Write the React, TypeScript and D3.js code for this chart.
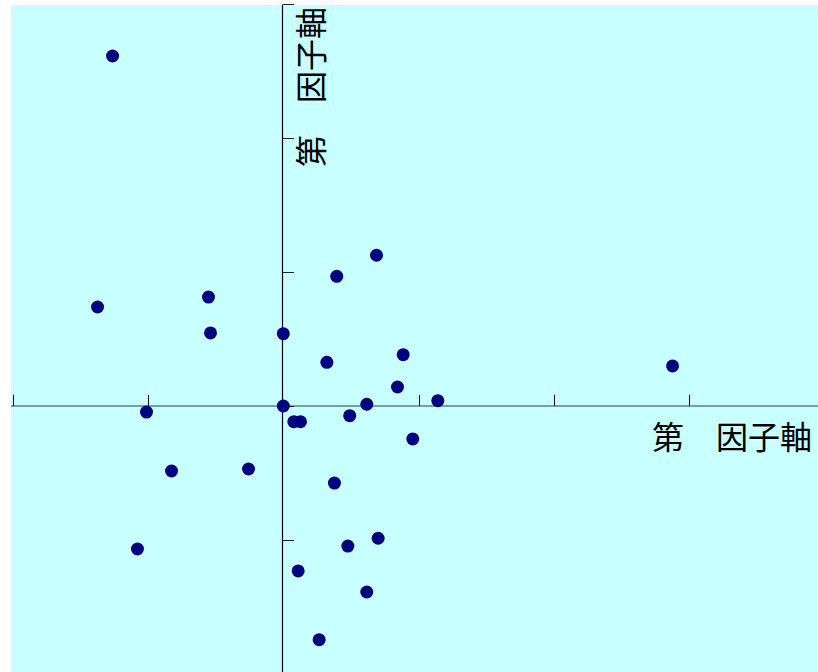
import React from "react";
import * as d3 from "d3";

const xValues = [-1.262, -1.373, -0.553, -0.538, 0.0, 0.395, 0.689, 0.322, 0.886, 0.844, 1.142, 2.877, -1.011, 0.0, 0.078, 0.127, 0.491, 0.617, 0.957, -0.826, -0.257, 0.378, -1.078, 0.477, 0.701, 0.110, 0.617, 0.265];
const yValues = [2.612, 0.739, 0.813, 0.545, 0.540, 0.968, 1.125, 0.326, 0.383, 0.142, 0.040, 0.299, -0.045, 0.0, -0.117, -0.117, -0.072, 0.013, -0.246, -0.485, -0.470, -0.575, -1.067, -1.045, -0.987, -1.231, -1.388, -1.744];
const xTicks = [-2, -1, 1, 2, 3];
const yTicks = [-1, 1, 2, 3];
const xLabel = "第　因子軸";
const yLabel = "第　因子軸";

export default function App() {
  const W = 818;
  const H = 672;
  const x = d3.scaleLinear().domain([-2, 3]).range([12.7, 12.7 + 5 * 135.3]);
  const y = d3.scaleLinear().domain([-1, 3]).range([540, 4]);
  const x0 = x(0);
  const y0 = y(0);
  const font = "'Noto Sans CJK JP', 'Noto Sans', sans-serif";
  return (
    <svg width={W} height={H} style={{ position: "absolute", left: 0, top: 0 }}>
      <rect x={11} y={5} width={W - 11} height={H - 5} fill="#c8ffff" />
      <line x1={11} x2={W} y1={y0} y2={y0} stroke="#5f7f7f" strokeWidth={1.4} />
      <line x1={282.5} x2={282.5} y1={5} y2={H} stroke="#000" strokeWidth={1.2} />
      {xTicks.map((t) => (
        <line key={"xt" + t} x1={Math.max(11.5, Math.round(x(t)) + 0.5)} x2={Math.max(11.5, Math.round(x(t)) + 0.5)} y1={y0} y2={y0 - 11} stroke="#000" strokeWidth={1} />
      ))}
      {[0, ...yTicks].map((t) => (
        <line key={"yt" + t} x1={282.5} x2={294} y1={Math.round(y(t)) + 0.5} y2={Math.round(y(t)) + 0.5} stroke="#222" strokeWidth={1} />
      ))}
      <text x={652} y={449} fontFamily={font} fontSize={32} fill="#000">{xLabel}</text>
      <text transform={`translate(323,167) rotate(-90)`} fontFamily={font} fontSize={32} fill="#000">{yLabel}</text>
      {xValues.map((v, i) => (
        <circle key={i} cx={x(v)} cy={y(yValues[i])} r={6.5} fill="#000080" />
      ))}
    </svg>
  );
}
